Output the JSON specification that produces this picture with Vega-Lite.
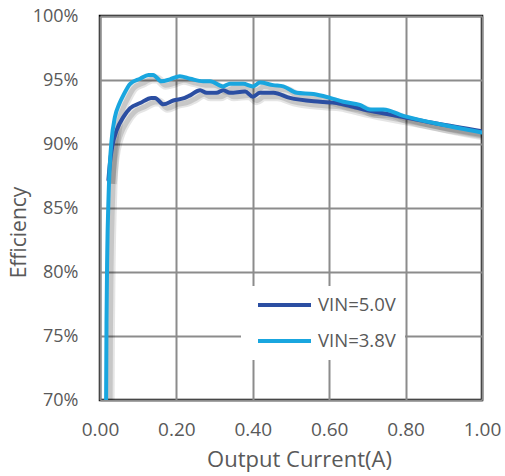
{
  "$schema": "https://vega.github.io/schema/vega-lite/v6.json",
  "width": 382,
  "height": 384,
  "autosize": {"type": "none"},
  "padding": {"left": 100, "top": 16, "right": 23, "bottom": 76},
  "background": "white",
  "config": {
    "font": "Open Sans",
    "view": {"stroke": "black", "strokeWidth": 2.5},
    "axis": {
      "domain": false,
      "ticks": false,
      "gridColor": "#8c8c8c",
      "gridWidth": 2,
      "gridOpacity": 1,
      "labelColor": "#595959",
      "labelFont": "Open Sans",
      "titleColor": "#595959",
      "titleFont": "Open Sans",
      "titleFontWeight": "normal"
    }
  },
  "data": {
    "values": [
      {"x": 0.022, "eff": 0.872, "series": "VIN=5.0V"},
      {"x": 0.026, "eff": 0.885, "series": "VIN=5.0V"},
      {"x": 0.032, "eff": 0.898, "series": "VIN=5.0V"},
      {"x": 0.044, "eff": 0.911, "series": "VIN=5.0V"},
      {"x": 0.061, "eff": 0.921, "series": "VIN=5.0V"},
      {"x": 0.079, "eff": 0.928, "series": "VIN=5.0V"},
      {"x": 0.105, "eff": 0.932, "series": "VIN=5.0V"},
      {"x": 0.135, "eff": 0.936, "series": "VIN=5.0V"},
      {"x": 0.144, "eff": 0.936, "series": "VIN=5.0V"},
      {"x": 0.166, "eff": 0.931, "series": "VIN=5.0V"},
      {"x": 0.192, "eff": 0.934, "series": "VIN=5.0V"},
      {"x": 0.222, "eff": 0.936, "series": "VIN=5.0V"},
      {"x": 0.236, "eff": 0.938, "series": "VIN=5.0V"},
      {"x": 0.262, "eff": 0.942, "series": "VIN=5.0V"},
      {"x": 0.279, "eff": 0.940, "series": "VIN=5.0V"},
      {"x": 0.305, "eff": 0.940, "series": "VIN=5.0V"},
      {"x": 0.323, "eff": 0.942, "series": "VIN=5.0V"},
      {"x": 0.340, "eff": 0.940, "series": "VIN=5.0V"},
      {"x": 0.380, "eff": 0.941, "series": "VIN=5.0V"},
      {"x": 0.400, "eff": 0.937, "series": "VIN=5.0V"},
      {"x": 0.419, "eff": 0.940, "series": "VIN=5.0V"},
      {"x": 0.454, "eff": 0.940, "series": "VIN=5.0V"},
      {"x": 0.497, "eff": 0.936, "series": "VIN=5.0V"},
      {"x": 0.576, "eff": 0.933, "series": "VIN=5.0V"},
      {"x": 0.620, "eff": 0.932, "series": "VIN=5.0V"},
      {"x": 0.663, "eff": 0.929, "series": "VIN=5.0V"},
      {"x": 0.690, "eff": 0.927, "series": "VIN=5.0V"},
      {"x": 0.724, "eff": 0.925, "series": "VIN=5.0V"},
      {"x": 0.794, "eff": 0.921, "series": "VIN=5.0V"},
      {"x": 0.881, "eff": 0.916, "series": "VIN=5.0V"},
      {"x": 1.000, "eff": 0.910, "series": "VIN=5.0V"},
      {"x": 0.016, "eff": 0.700, "series": "VIN=3.8V"},
      {"x": 0.017, "eff": 0.760, "series": "VIN=3.8V"},
      {"x": 0.019, "eff": 0.815, "series": "VIN=3.8V"},
      {"x": 0.022, "eff": 0.855, "series": "VIN=3.8V"},
      {"x": 0.025, "eff": 0.880, "series": "VIN=3.8V"},
      {"x": 0.030, "eff": 0.902, "series": "VIN=3.8V"},
      {"x": 0.039, "eff": 0.921, "series": "VIN=3.8V"},
      {"x": 0.050, "eff": 0.931, "series": "VIN=3.8V"},
      {"x": 0.061, "eff": 0.938, "series": "VIN=3.8V"},
      {"x": 0.079, "eff": 0.947, "series": "VIN=3.8V"},
      {"x": 0.105, "eff": 0.951, "series": "VIN=3.8V"},
      {"x": 0.127, "eff": 0.954, "series": "VIN=3.8V"},
      {"x": 0.139, "eff": 0.954, "series": "VIN=3.8V"},
      {"x": 0.161, "eff": 0.949, "series": "VIN=3.8V"},
      {"x": 0.183, "eff": 0.9505, "series": "VIN=3.8V"},
      {"x": 0.209, "eff": 0.953, "series": "VIN=3.8V"},
      {"x": 0.236, "eff": 0.951, "series": "VIN=3.8V"},
      {"x": 0.270, "eff": 0.949, "series": "VIN=3.8V"},
      {"x": 0.288, "eff": 0.949, "series": "VIN=3.8V"},
      {"x": 0.322, "eff": 0.945, "series": "VIN=3.8V"},
      {"x": 0.340, "eff": 0.947, "series": "VIN=3.8V"},
      {"x": 0.375, "eff": 0.947, "series": "VIN=3.8V"},
      {"x": 0.400, "eff": 0.945, "series": "VIN=3.8V"},
      {"x": 0.419, "eff": 0.948, "series": "VIN=3.8V"},
      {"x": 0.453, "eff": 0.946, "series": "VIN=3.8V"},
      {"x": 0.480, "eff": 0.945, "series": "VIN=3.8V"},
      {"x": 0.515, "eff": 0.940, "series": "VIN=3.8V"},
      {"x": 0.559, "eff": 0.939, "series": "VIN=3.8V"},
      {"x": 0.602, "eff": 0.936, "series": "VIN=3.8V"},
      {"x": 0.637, "eff": 0.933, "series": "VIN=3.8V"},
      {"x": 0.680, "eff": 0.9305, "series": "VIN=3.8V"},
      {"x": 0.707, "eff": 0.927, "series": "VIN=3.8V"},
      {"x": 0.742, "eff": 0.927, "series": "VIN=3.8V"},
      {"x": 0.794, "eff": 0.922, "series": "VIN=3.8V"},
      {"x": 0.880, "eff": 0.916, "series": "VIN=3.8V"},
      {"x": 1.000, "eff": 0.909, "series": "VIN=3.8V"}
    ]
  },
  "encoding": {
    "x": {
      "field": "x", "type": "quantitative",
      "scale": {"domain": [0, 1], "nice": false, "zero": false},
      "axis": {"values": [0, 0.2, 0.4, 0.6, 0.8, 1.0], "format": ".2f", "title": "Output Current(A)", "labelFontSize": 19, "labelPadding": 20, "titleFontSize": 22, "titlePadding": 10, "titleX": 199, "titleAlign": "center", "labelFlush": false}
    },
    "y": {
      "field": "eff", "type": "quantitative",
      "scale": {"domain": [0.7, 1.0], "nice": false, "zero": false},
      "axis": {"values": [0.7, 0.75, 0.8, 0.85, 0.9, 0.95, 1.0], "format": ".0%", "title": "Efficiency", "labelFontSize": 18, "labelPadding": 22, "titleFontSize": 21, "titlePadding": 3, "titleY": 216, "titleAlign": "center", "labelFlush": false}
    },
    "detail": {"field": "series"}
  },
  "layer": [
    {
      "mark": {"type": "line", "clip": true, "interpolate": "monotone", "color": "#000000", "opacity": 0.1, "strokeWidth": 9, "xOffset": 4, "yOffset": 4}
    },
    {
      "mark": {"type": "line", "clip": true, "interpolate": "monotone", "color": "#000000", "opacity": 0.13, "strokeWidth": 5, "xOffset": 4, "yOffset": 4}
    },
    {
      "mark": {"type": "line", "clip": true, "interpolate": "monotone", "strokeWidth": 4, "strokeCap": "round"},
      "encoding": {
        "color": {
          "field": "series", "type": "nominal",
          "scale": {"domain": ["VIN=5.0V", "VIN=3.8V"], "range": ["#2B4EA2", "#19A6DF"]},
          "legend": {
            "orient": "none", "legendX": 141, "legendY": 270,
            "title": null,
            "fillColor": "white",
            "padding": 9,
            "symbolType": "stroke",
            "symbolStrokeWidth": 4,
            "symbolSize": 2809,
            "symbolOffset": 6,
            "clipHeight": 20,
            "rowPadding": 16,
            "labelFontSize": 18.5,
            "labelColor": "#595959",
            "labelFont": "Open Sans",
            "labelOffset": 5
          }
        }
      }
    }
  ]
}
